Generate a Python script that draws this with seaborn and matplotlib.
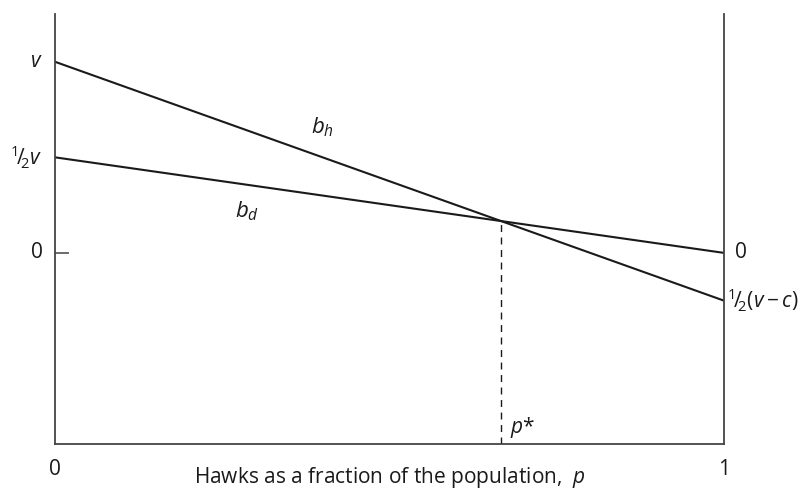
import matplotlib
matplotlib.use("Agg")
import matplotlib.pyplot as plt
import seaborn as sns
import pandas as pd

# Payoffs (in units of v) at p = 0 and p = 1
p_ends = [0.0, 1.0]
hawk_payoff = [1.0, -0.25]   # v  ->  (v - c)/2
dove_payoff = [0.5, 0.0]     # v/2 -> 0

left_vals = [1.0, 0.5, 0.0]
left_labels = [r"$v$", r"${}^{1}\!/\!{}_{2}v$", "0"]
right_vals = [0.0, -0.25]
right_labels = ["0", r"${}^{1}\!/\!{}_{2}(v - c)$"]
x_ticks = [0, 1]
x_tick_labels = ["0", "1"]

sns.set_style("white")
plt.rcParams["font.family"] = ["Open Sans", "DejaVu Sans"]
plt.rcParams["mathtext.fontset"] = "custom"
plt.rcParams["mathtext.rm"] = "Open Sans"
plt.rcParams["mathtext.it"] = "Open Sans:italic"
plt.rcParams["mathtext.bf"] = "Open Sans:bold"

fig = plt.figure(figsize=(8.1, 4.91), dpi=100)
ax = fig.add_axes([55 / 810, 47 / 491, 669 / 810, 430 / 491])

df = pd.DataFrame({
    "p": p_ends * 2,
    "payoff": hawk_payoff + dove_payoff,
    "strategy": ["hawk"] * 2 + ["dove"] * 2,
})
sns.lineplot(data=df, x="p", y="payoff", hue="strategy",
             palette={"hawk": "#1a1a1a", "dove": "#1a1a1a"},
             linewidth=1.5, legend=False, ax=ax)

# equilibrium where the two payoff lines cross
dh0 = hawk_payoff[0] - dove_payoff[0]
dh1 = hawk_payoff[1] - dove_payoff[1]
p_star = dh0 / (dh0 - dh1)
y_star = dove_payoff[0] + (dove_payoff[1] - dove_payoff[0]) * p_star

ax.set_xlim(0, 1)
ax.set_ylim(-1.0, 1.25)
ax.plot([p_star, p_star], [-1.0, y_star], color="#1a1a1a", lw=1.0,
        linestyle=(0, (5, 4)))

for side in ["left", "right", "bottom"]:
    ax.spines[side].set_color("#444444")
    ax.spines[side].set_linewidth(1.3)
ax.spines["top"].set_visible(False)

fs = 15
# left axis: only the zero level gets a tick mark
ax.set_yticks([0.0])
ax.set_yticklabels([""])
ax.tick_params(axis="y", left=True, right=False, direction="in", length=10,
               width=1.1, color="#444444")
for val, lab in zip(left_vals, left_labels):
    ax.annotate(lab, xy=(0, val), xycoords=("axes fraction", "data"),
                xytext=(-9, 0), textcoords="offset points",
                ha="right", va="center", fontsize=fs, color="#1a1a1a")

# right axis labels
for val, lab, off in zip(right_vals, right_labels, [8, 2]):
    ax.annotate(lab, xy=(1, val), xycoords=("axes fraction", "data"),
                xytext=(off, 0), textcoords="offset points",
                ha="left", va="center", fontsize=fs, color="#1a1a1a")

ax.set_xticks(x_ticks)
ax.set_xticklabels(x_tick_labels, fontsize=fs, color="#1a1a1a")
ax.tick_params(axis="x", length=0, pad=11)
ax.set_xlabel(r"Hawks as a fraction of the population,  $p$", fontsize=fs,
              color="#1a1a1a", va="center")
ax.xaxis.set_label_coords(0.5, -0.077)
ax.set_ylabel("")

ax.text(0.40, 0.66, r"$b_h$", fontsize=fs + 1, ha="center", va="center",
        color="#1a1a1a")
ax.text(0.287, 0.22, r"$b_d$", fontsize=fs + 1, ha="center", va="center",
        color="#1a1a1a")
ax.text(p_star + 0.014, -0.915, r"$p$*", fontsize=fs, ha="left", va="center",
        color="#1a1a1a")

fig.savefig("out.png", dpi=100)
